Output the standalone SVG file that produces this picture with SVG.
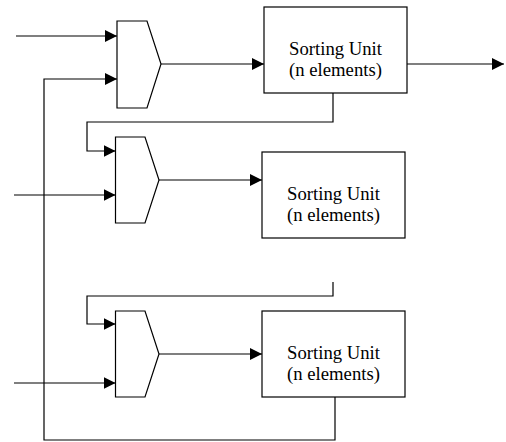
<svg xmlns="http://www.w3.org/2000/svg" width="506" height="442" viewBox="0 0 506 442">
<style>
.shape{fill:#fff;stroke:#000;stroke-width:1.2}
.wire{fill:none;stroke:#000;stroke-width:1.2}
.lbl{font-family:"Liberation Serif","Times New Roman",serif;font-size:18.7px;fill:#000;text-anchor:middle}
</style>
<defs>
<marker id="ah" markerUnits="userSpaceOnUse" markerWidth="12" markerHeight="12" refX="12" refY="6" orient="auto" viewBox="0 0 12 12">
<path d="M0,0 L12,6 L0,12 z" fill="#000"/>
</marker>
</defs>
<rect width="506" height="442" fill="#fff"/>
<g id="connectors">
<path class="wire" d="M16,36 H117" marker-end="url(#ah)"/>
<path class="wire" d="M335,397 V440 H44 V79 H117" marker-end="url(#ah)"/>
<path class="wire" d="M161,64 H264" marker-end="url(#ah)"/>
<path class="wire" d="M407,64 H504" marker-end="url(#ah)"/>
<path class="wire" d="M333,93 V122 H87 V151 H115.5" marker-end="url(#ah)"/>
<path class="wire" d="M14,195 H115.5" marker-end="url(#ah)"/>
<path class="wire" d="M159,180 H262" marker-end="url(#ah)"/>
<path class="wire" d="M333,282 V296 H87 V324 H115.5" marker-end="url(#ah)"/>
<path class="wire" d="M14,383 H115.5" marker-end="url(#ah)"/>
<path class="wire" d="M159,354 H262" marker-end="url(#ah)"/>
</g>
<g id="mux1"><polygon class="shape" points="117,21 147,21 161,64 147,108 117,108"/></g>
<g id="mux2"><polygon class="shape" points="115.5,137 145,137 159,180 145,223 115.5,223"/></g>
<g id="mux3"><polygon class="shape" points="115.5,311 145,311 159,354 145,397 115.5,397"/></g>
<g id="unit1">
<rect class="shape" x="264" y="7" width="143" height="86"/>
<text class="lbl" x="335.5" y="55">Sorting Unit</text>
<text class="lbl" x="335.5" y="76">(n elements)</text>
</g>
<g id="unit2">
<rect class="shape" x="262" y="152" width="143" height="86"/>
<text class="lbl" x="333.5" y="200">Sorting Unit</text>
<text class="lbl" x="333.5" y="221">(n elements)</text>
</g>
<g id="unit3">
<rect class="shape" x="262" y="311" width="143" height="86"/>
<text class="lbl" x="333.5" y="359">Sorting Unit</text>
<text class="lbl" x="333.5" y="380">(n elements)</text>
</g>
</svg>
